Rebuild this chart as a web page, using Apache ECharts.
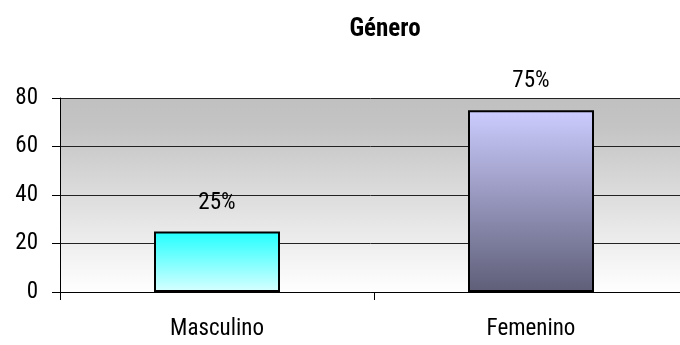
<!DOCTYPE html>
<html>
<head>
<meta charset="utf-8">
<script src="https://cdn.jsdelivr.net/npm/echarts@6/dist/echarts.min.js"></script>
<style>
  html, body { margin: 0; padding: 0; background: #ffffff; }
  #chart { width: 680px; height: 345px; }
</style>
</head>
<body>
<div id="chart"></div>
<script>
// Gender breakdown (percent of respondents)
const categories = ['Masculino', 'Femenino'];
const values = [25, 75];
const yTicks = [0, 20, 40, 60, 80];

const FONT = '"Roboto Condensed", "Liberation Sans", Arial, sans-serif';

const barFills = [
  new echarts.graphic.LinearGradient(0, 0, 0, 1, [
    { offset: 0, color: '#22ffff' },
    { offset: 1, color: '#d8ffff' }
  ]),
  new echarts.graphic.LinearGradient(0, 0, 0, 1, [
    { offset: 0, color: '#ccccff' },
    { offset: 1, color: '#5e5e78' }
  ])
];

const chart = echarts.init(document.getElementById('chart'), null, { renderer: 'canvas' });

chart.setOption({
  backgroundColor: '#ffffff',
  animation: false,
  title: {
    text: 'Género',
    left: 380,
    top: 12,
    textAlign: 'center',
    textStyle: {
      fontFamily: FONT,
      fontWeight: 'bold',
      fontSize: 25,
      color: '#000000'
    }
  },
  grid: {
    left: 60,
    top: 98,
    width: 628,
    height: 194,
    outerBoundsMode: 'none',
    containLabel: false,
    show: true,
    borderWidth: 0,
    backgroundColor: new echarts.graphic.LinearGradient(0, 0, 0, 1, [
      { offset: 0, color: '#c0c0c0' },
      { offset: 0.15, color: '#c4c4c4' },
      { offset: 1, color: '#ffffff' }
    ])
  },
  xAxis: {
    type: 'category',
    data: categories,
    boundaryGap: true,
    axisLine: { show: true, lineStyle: { color: '#000000', width: 1 } },
    axisTick: { show: true, length: 8, lineStyle: { color: '#000000' } },
    axisLabel: {
      margin: 26,
      fontFamily: FONT,
      fontSize: 23,
      color: '#000000'
    }
  },
  yAxis: {
    type: 'value',
    min: yTicks[0],
    max: yTicks[yTicks.length - 1],
    interval: 20,
    axisLine: { show: true, lineStyle: { color: '#000000', width: 1 } },
    axisTick: { show: true, length: 8, lineStyle: { color: '#000000' } },
    axisLabel: {
      margin: 22,
      fontFamily: FONT,
      fontSize: 23,
      color: '#000000'
    },
    splitLine: { show: true, lineStyle: { color: '#222222', width: 1 } }
  },
  series: [{
    type: 'bar',
    barWidth: 126,
    data: values.map((v, i) => ({
      value: v,
      itemStyle: { color: barFills[i] }
    })),
    itemStyle: { borderColor: '#000000', borderWidth: 2 },
    label: {
      show: true,
      position: 'top',
      distance: 17,
      formatter: p => p.value + '%',
      fontFamily: FONT,
      fontSize: 23,
      color: '#000000'
    }
  }]
});
</script>
</body>
</html>
